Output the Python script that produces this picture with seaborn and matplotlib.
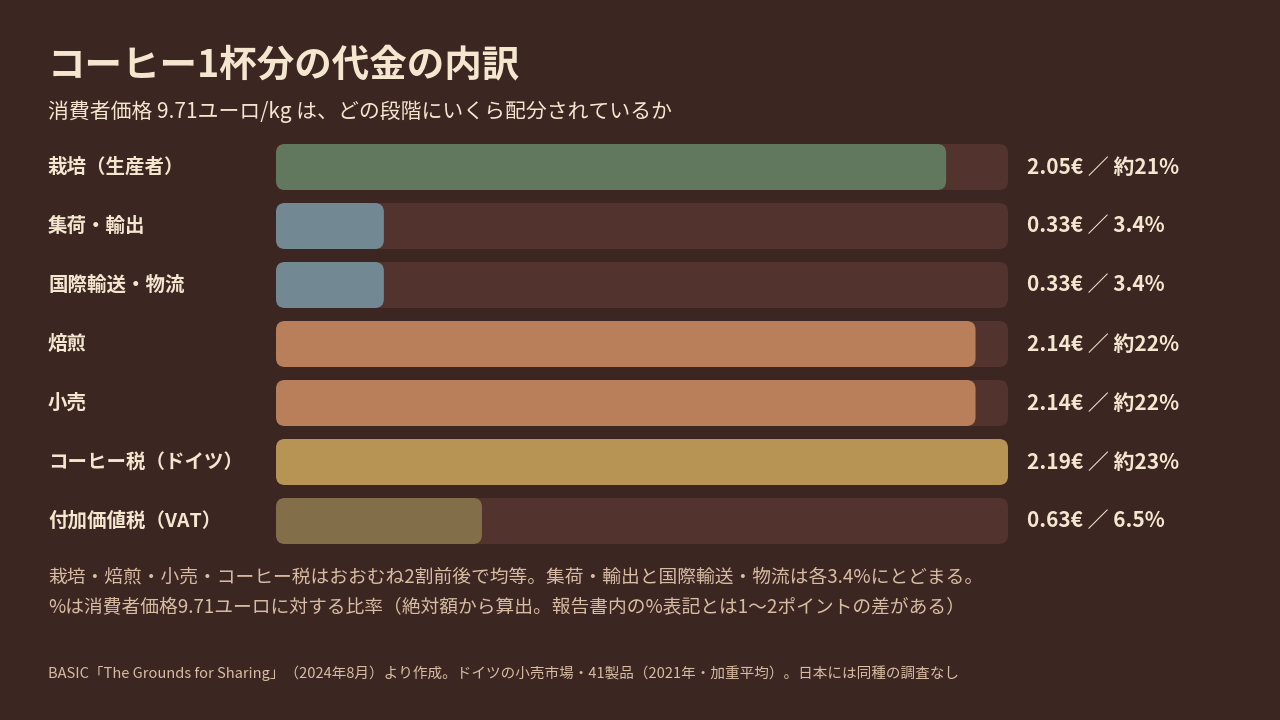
import matplotlib
matplotlib.use("Agg")
import matplotlib.pyplot as plt
import seaborn as sns
import pandas as pd
from matplotlib.patches import FancyBboxPatch

# data
stages = ["栽培（生産者）", "集荷・輸出", "国際輸送・物流", "焙煎", "小売", "コーヒー税（ドイツ）", "付加価値税（VAT）"]
euros = [2.05, 0.33, 0.33, 2.14, 2.14, 2.19, 0.63]
value_labels = ["2.05€ ／ 約21%", "0.33€ ／ 3.4%", "0.33€ ／ 3.4%", "2.14€ ／ 約22%",
                "2.14€ ／ 約22%", "2.19€ ／ 約23%", "0.63€ ／ 6.5%"]
colors = ["#5e7b5a", "#6d8a97", "#6d8a97", "#c97a4a", "#c97a4a", "#c79944", "#8b7240"]

BG = "#3c2622"
TRACK = "#52332d"
CREAM = "#f5e6d0"
MUTED = "#d8bda4"

sns.set_theme(style="white")
plt.rcParams["font.family"] = ["Noto Sans CJK JP", "DejaVu Sans"]

fig = plt.figure(figsize=(12.8, 7.2), dpi=100, facecolor=BG)
ax = fig.add_axes([276 / 1280, 1 - 550.5 / 720, 732 / 1280, 413 / 720])
ax.set_facecolor(BG)

df = pd.DataFrame({"stage": stages, "euro": euros})
xmax = max(euros)
sns.barplot(data=df, x="euro", y="stage", hue="stage", palette=colors, legend=False,
            width=46 / 59, ax=ax)
ax.set_xlim(0, xmax)
ax.set_ylim(len(stages) - 0.5, -0.5)

# replace rectangles with rounded bars over a track
r_px = 9
rx = r_px * xmax / 732
aspect = (1 / 59) / (xmax / 732)
for p in list(ax.patches):
    x0, y0, w, h = p.get_x(), p.get_y(), p.get_width(), p.get_height()
    fc = p.get_facecolor()
    p.remove()
    ax.add_patch(FancyBboxPatch((0, y0), xmax, h, boxstyle=f"round,pad=0,rounding_size={rx}",
                                mutation_aspect=aspect, fc=TRACK, ec="none", zorder=1))
    ax.add_patch(FancyBboxPatch((x0, y0), w * 0.978 if w < xmax else w, h,
                                boxstyle=f"round,pad=0,rounding_size={rx}",
                                mutation_aspect=aspect, fc=fc, ec="none", zorder=2))

ax.set_xticks([])
ax.set_yticks([])
ax.set_xlabel("")
ax.set_ylabel("")
sns.despine(ax=ax, left=True, bottom=True)

for i, (s, v) in enumerate(zip(stages, value_labels)):
    y = 1 - (167 + 59 * i) / 720
    fig.text(48 / 1280, y, s, color=CREAM, fontsize=14, fontweight="bold", va="center")
    fig.text(1027 / 1280, y, v, color=CREAM, fontsize=15, fontweight="bold", va="center")

fig.text(48 / 1280, 1 - 65 / 720, "コーヒー1杯分の代金の内訳", color=CREAM, fontsize=27,
         fontweight="bold", va="center")
fig.text(48 / 1280, 1 - 112 / 720, "消費者価格 9.71ユーロ/kg は、どの段階にいくら配分されているか",
         color=CREAM, fontsize=15, va="center")
fig.text(48 / 1280, 1 - 577 / 720,
         "栽培・焙煎・小売・コーヒー税はおおむね2割前後で均等。集荷・輸出と国際輸送・物流は各3.4%にとどまる。",
         color=MUTED, fontsize=13.5, va="center")
fig.text(48 / 1280, 1 - 608 / 720,
         "%は消費者価格9.71ユーロに対する比率（絶対額から算出。報告書内の%表記とは1〜2ポイントの差がある）",
         color=MUTED, fontsize=13.5, va="center")
fig.text(48 / 1280, 1 - 673 / 720,
         "BASIC「The Grounds for Sharing」（2024年8月）より作成。ドイツの小売市場・41製品（2021年・加重平均）。日本には同種の調査なし",
         color=MUTED, fontsize=10.5, va="center")

fig.savefig("out.png", dpi=100, facecolor=BG)
